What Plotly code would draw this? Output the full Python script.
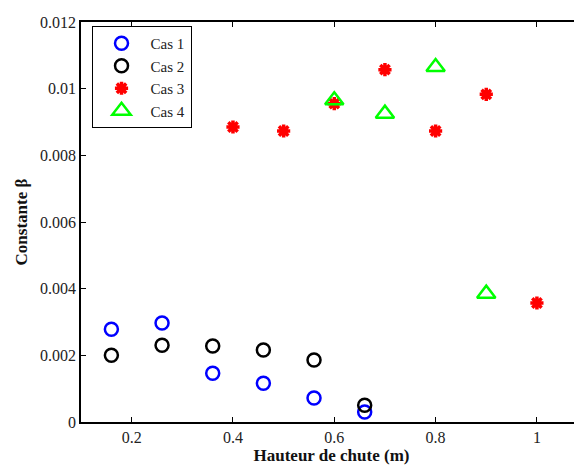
import plotly.graph_objects as go

FONT = "Liberation Serif, Times New Roman, serif"

hauteur_12 = [0.16, 0.26, 0.36, 0.46, 0.56, 0.66]
cas1 = [0.00278, 0.00297, 0.00146, 0.00116, 0.00072, 0.00030]
cas2 = [0.00200, 0.00230, 0.00228, 0.00216, 0.00186, 0.00050]

hauteur_3 = [0.4, 0.5, 0.6, 0.7, 0.8, 0.9, 1.0]
cas3 = [0.00885, 0.00873, 0.00955, 0.01057, 0.00873, 0.00983, 0.00357]

hauteur_4 = [0.6, 0.7, 0.8, 0.9]
cas4 = [0.00965, 0.00925, 0.01065, 0.00385]

fig = go.Figure()
fig.add_trace(go.Scatter(
    x=hauteur_12, y=cas1, mode="markers", name="Cas 1",
    marker=dict(symbol="circle-open", size=13, color="#0000ff", line=dict(width=2.5)),
))
fig.add_trace(go.Scatter(
    x=hauteur_12, y=cas2, mode="markers", name="Cas 2",
    marker=dict(symbol="circle-open", size=13, color="#000000", line=dict(width=2.5)),
))
fig.add_trace(go.Scatter(
    x=hauteur_3, y=cas3, mode="markers", name="Cas 3",
    marker=dict(symbol="asterisk-open", size=11, color="#ff0000", line=dict(width=3.5, color="#ff0000")),
))
fig.add_trace(go.Scatter(
    x=hauteur_4, y=cas4, mode="markers", name="Cas 4",
    marker=dict(symbol="triangle-up-open", size=16, color="#00ff00", line=dict(width=2.5)),
))

# the page body has an 8px margin, so the figure is shifted by 8px
fig.update_layout(
    width=574, height=458,
    plot_bgcolor="white", paper_bgcolor="white",
    font=dict(family=FONT, size=16, color="#222222"),
    margin=dict(l=73, r=0, t=14, b=44),
    showlegend=True,
    legend=dict(
        x=0.021, y=0.99, xanchor="left", yanchor="top",
        bgcolor="white", bordercolor="black", borderwidth=1,
        font=dict(family=FONT, size=15, color="#222222"),
        tracegroupgap=0, itemwidth=48,
    ),
)
fig.update_xaxes(
    range=[0.1, 1.089], tickvals=[0.2, 0.4, 0.6, 0.8, 1.0],
    ticktext=["0.2", "0.4", "0.6", "0.8", "1"],
    showgrid=False, zeroline=False, automargin=False,
    showline=True, linecolor="black", linewidth=1.5, mirror="ticks",
    ticks="inside", ticklen=5, tickcolor="black",
    title=dict(text="<b>Hauteur de chute (m)</b>", font=dict(size=17, color="#111111"), standoff=4),
)
fig.update_yaxes(
    range=[0, 0.012], tickvals=[0, 0.002, 0.004, 0.006, 0.008, 0.01, 0.012],
    ticktext=["0", "0.002", "0.004", "0.006", "0.008", "0.01", "0.012"],
    showgrid=False, zeroline=False, automargin=False,
    showline=True, linecolor="black", linewidth=1.5, mirror=False,
    ticks="inside", ticklen=5, tickcolor="black",
    title=dict(text="<b>Constante β</b>", font=dict(size=17, color="#111111"), standoff=8),
)

fig.write_html("out.html")
